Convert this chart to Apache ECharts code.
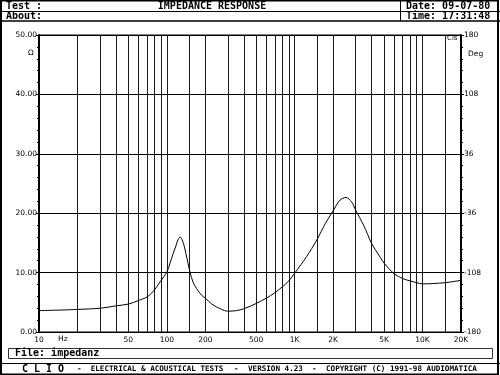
<!DOCTYPE html>
<html><head><meta charset="utf-8">
<script src="https://cdn.jsdelivr.net/npm/echarts@6/dist/echarts.min.js"></script>
<style>html,body{margin:0;padding:0;background:#fff}#c{width:500px;height:375px}</style>
</head><body><div id="c"></div>
<script>
// Frequency (Hz) and impedance (Ohm)
const freqHz = [10, 15, 20, 30, 40, 50, 60, 70, 78, 89, 100, 106, 112, 117, 121, 124, 127, 130, 133, 137, 141, 146, 152, 161, 171, 187, 200, 225, 268, 300, 350, 400, 500, 600, 700, 800, 900, 1000, 1240, 1490, 1740, 2000, 2260, 2520, 2790, 3000, 3460, 4000, 4660, 5000, 5500, 6000, 7000, 8000, 9000, 10000, 15000, 20000];
const impedanceOhm = [3.6, 3.7, 3.8, 4.0, 4.4, 4.7, 5.3, 5.9, 6.8, 8.5, 10.1, 11.6, 13.2, 14.3, 15.3, 15.75, 16.0, 15.8, 15.3, 14.4, 13.2, 11.7, 10.0, 8.3, 7.3, 6.2, 5.7, 4.7, 3.8, 3.5, 3.6, 3.9, 4.8, 5.7, 6.6, 7.6, 8.6, 9.9, 12.7, 15.5, 18.3, 20.4, 22.2, 22.65, 21.9, 20.5, 18.0, 14.9, 12.6, 11.6, 10.6, 9.8, 9.0, 8.6, 8.3, 8.1, 8.3, 8.7];
// Vertical grid frequencies and labelled frequencies
const gridFreqs = [10, 20, 30, 40, 50, 60, 70, 80, 90, 100, 150, 200, 300, 400, 500, 600, 700, 800, 900, 1000, 1500, 2000, 3000, 4000, 5000, 6000, 7000, 8000, 9000, 10000, 15000, 20000];
const freqLabels = [10, 50, 100, 200, 500, 1000, 2000, 5000, 10000, 20000];
// Right-axis (phase) tick labels, bottom to top
const phaseLabels = ['-180', '-108', '-36', '36', '108', '180'];

const mono = 'DejaVu Sans Mono';
const sans = 'DejaVu Sans';

function fmtFreq(v) {
  const n = Math.round(v);
  return n >= 1000 ? (n / 1000) + 'K' : String(n);
}

const chart = echarts.init(document.getElementById('c'), null, { renderer: 'canvas' });

const txt = (x, y, text, opts) => Object.assign({
  type: 'text', x: x, y: y, silent: true,
  style: Object.assign({ text: text, fill: '#000', font: 'bold 10px "' + mono + '"', textVerticalAlign: 'middle', verticalAlign: 'middle' }, (opts && opts.style) || {})
}, opts && opts.el ? opts.el : {});

const foot = 'bold 7.6px "' + mono + '"';

chart.setOption({
  animation: false,
  backgroundColor: '#fff',
  grid: { left: 39, right: 39, top: 35, bottom: 43, show: true, borderColor: '#000', borderWidth: 1, backgroundColor: '#fff' },
  xAxis: {
    type: 'log', logBase: 10, min: 10, max: 20000,
    axisLine: { show: true, lineStyle: { color: '#000', width: 1 } },
    axisTick: { show: false, customValues: gridFreqs },
    minorTick: { show: false },
    splitLine: { show: true, lineStyle: { color: '#1a1a1a', width: 1 } },
    axisLabel: { customValues: freqLabels, formatter: fmtFreq, fontSize: 7.5, fontFamily: sans, color: '#000', margin: 4 }
  },
  yAxis: [
    {
      type: 'value', min: 0, max: 50, interval: 10, position: 'left',
      axisLine: { show: true, lineStyle: { color: '#000', width: 2 } },
      axisTick: { show: true, length: 3, lineStyle: { color: '#000' } },
      minorTick: { show: true, splitNumber: 5, length: 2, lineStyle: { color: '#000' } },
      splitLine: { show: true, lineStyle: { color: '#000', width: 1 } },
      axisLabel: { formatter: v => v.toFixed(2), fontSize: 7.5, fontFamily: sans, color: '#000', margin: 2 }
    },
    {
      type: 'value', min: 0, max: 50, interval: 10, position: 'right',
      axisLine: { show: true, lineStyle: { color: '#000', width: 2 } },
      axisTick: { show: true, length: 3, lineStyle: { color: '#000' } },
      minorTick: { show: true, splitNumber: 5, length: 2, lineStyle: { color: '#000' } },
      splitLine: { show: false },
      axisLabel: { formatter: v => phaseLabels[Math.round(v / 10)], fontSize: 7.5, fontFamily: sans, color: '#000', margin: 3 }
    }
  ],
  series: [{
    type: 'line',
    data: freqHz.map((f, i) => [f, impedanceOhm[i]]),
    showSymbol: false,
    smooth: 0.3,
    lineStyle: { color: '#000', width: 1 },
    silent: true
  }],
  graphic: [
    { type: 'rect', silent: true, shape: { x: 1, y: 0.5, width: 497, height: 374 }, style: { fill: null, stroke: '#000', lineWidth: 2 } },
    { type: 'line', silent: true, shape: { x1: 0, y1: 11.5, x2: 500, y2: 11.5 }, style: { stroke: '#000', lineWidth: 1 } },
    { type: 'line', silent: true, shape: { x1: 0, y1: 21, x2: 500, y2: 21 }, style: { stroke: '#000', lineWidth: 1.5 } },
    { type: 'line', silent: true, shape: { x1: 400.5, y1: 0, x2: 400.5, y2: 21 }, style: { stroke: '#000', lineWidth: 1 } },
    txt(6, 6.5, 'Test :'),
    txt(6, 16.5, 'About:'),
    txt(212, 6.5, 'IMPEDANCE RESPONSE', { style: { align: 'center', textAlign: 'center' } }),
    txt(406, 6.5, 'Date: 09-07-80'),
    txt(406, 16.5, 'Time: 17:31:48'),
    txt(28, 53, 'Ω', { style: { font: '7.5px "' + sans + '"' } }),
    txt(468, 54, 'Deg', { style: { font: '7.5px "' + sans + '"' } }),
    txt(447, 38.5, 'Cis', { style: { font: '7px "' + sans + '"' } }),
    txt(58, 339.5, 'Hz', { style: { font: '7.5px "' + sans + '"' } }),
    { type: 'rect', silent: true, shape: { x: 8.5, y: 348.5, width: 484, height: 10 }, style: { fill: null, stroke: '#333', lineWidth: 1 } },
    txt(15, 353.5, 'File: impedanz'),
    { type: 'line', silent: true, shape: { x1: 0, y1: 363.5, x2: 500, y2: 363.5 }, style: { stroke: '#000', lineWidth: 1 } },
    txt(22, 369, 'C L I O', { style: { font: 'bold 10px "' + mono + '"' } }),
    txt(77, 369, '-', { style: { font: foot } }),
    txt(90.7, 369, 'ELECTRICAL & ACOUSTICAL TESTS', { style: { font: foot } }),
    txt(234, 369, '-', { style: { font: foot } }),
    txt(248, 369, 'VERSION 4.23', { style: { font: foot } }),
    txt(312, 369, '-', { style: { font: foot } }),
    txt(326, 369, 'COPYRIGHT (C) 1991-98 AUDIOMATICA', { style: { font: foot } })
  ]
});
</script></body></html>
